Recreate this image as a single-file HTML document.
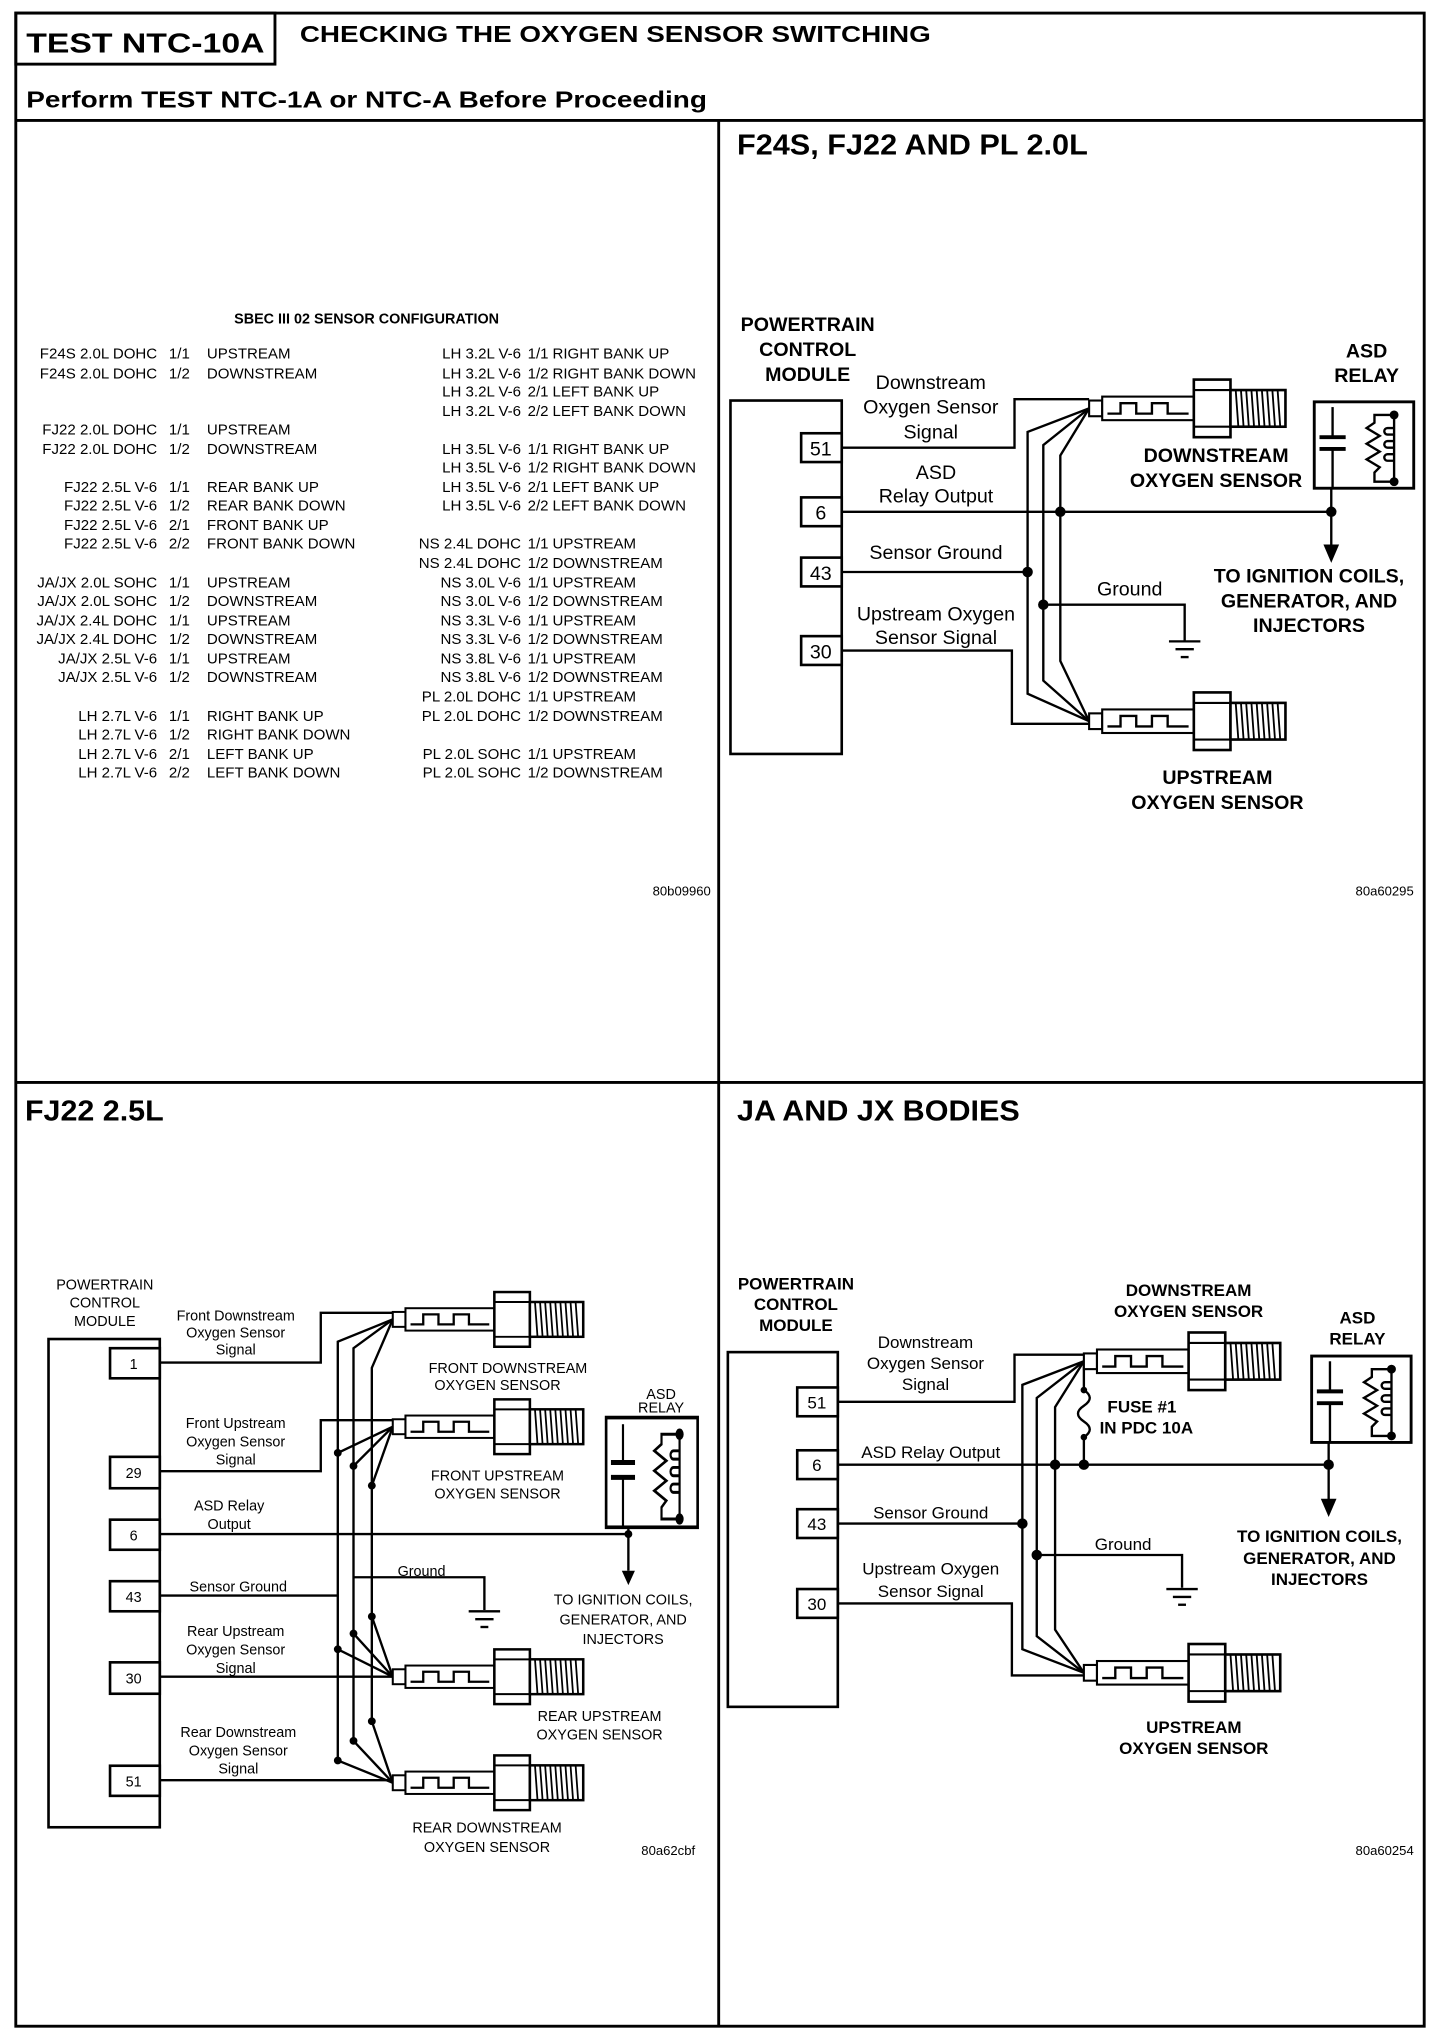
<!DOCTYPE html>
<html><head><meta charset="utf-8"><style>
html,body{margin:0;padding:0;background:#fff}
svg{display:block}
text{font-family:"Liberation Sans Narrow","Liberation Sans",sans-serif;fill:#000}
.b{font-weight:bold}
</style></head><body>
<svg width="1440" height="2038" viewBox="0 0 1100 1557" xmlns="http://www.w3.org/2000/svg">
<defs>
<g id="sen" stroke="#000" fill="#fff" stroke-width="1.6">
<rect x="0" y="-6" width="10" height="12"/>
<rect x="10" y="-9" width="70" height="18"/>
<path d="M14 4 H24 V-4 H36 V4 H48 V-4 H60 V4 H76" fill="none" stroke-width="1.8"/>
<rect x="80" y="-22" width="28" height="44" stroke-width="2"/>
<line x1="80" y1="-14" x2="108" y2="-14"/><line x1="80" y1="14" x2="108" y2="14"/>
<rect x="108" y="-14" width="42" height="28" stroke-width="2"/>
<path d="M112 -14 L114 14 M116 -14 L118 14 M120 -14 L122 14 M124 -14 L126 14 M128 -14 L130 14 M132 -14 L134 14 M136 -14 L138 14 M140 -14 L142 14 M144 -14 L146 14" fill="none" stroke-width="1.4"/>
</g>
<g id="rel" stroke="#000" fill="none" stroke-width="1.8">
<rect x="0" y="0" width="76" height="66" fill="#fff" stroke-width="2.2"/>
<line x1="14" y1="4" x2="14" y2="27"/><line x1="14" y1="36" x2="14" y2="66"/>
<line x1="4" y1="27" x2="24" y2="27" stroke-width="3"/><line x1="4" y1="36" x2="24" y2="36" stroke-width="3"/>
<path d="M61 10 H46 V16 L40 20 L50 26 L40 32 L50 38 L40 44 L50 50 L46 54 V61 H61"/>
<path d="M61 10 V61 M61 20 h-5 a2 2 0 0 0 0 5 h5 M61 30 h-5 a2 2 0 0 0 0 5 h5 M61 40 h-5 a2 2 0 0 0 0 5 h5"/>
<circle cx="61" cy="10" r="2.5" fill="#000"/><circle cx="61" cy="61" r="2.5" fill="#000"/>
</g>
<g id="gnd" stroke="#000" stroke-width="1.8"><line x1="-12" y1="0" x2="12" y2="0"/><line x1="-7" y1="6" x2="7" y2="6"/><line x1="-3" y1="12" x2="3" y2="12"/></g>
</defs>

<!-- frame -->
<g stroke="#000" fill="none" stroke-width="2.2">
<rect x="12" y="10" width="1076" height="1538"/>
<rect x="12" y="10" width="198" height="39"/>
<line x1="12" y1="92" x2="1088" y2="92"/>
<line x1="549" y1="92" x2="549" y2="1548"/>
<line x1="12" y1="827" x2="1088" y2="827"/>
</g>
<text class="b" x="20" y="40" font-size="21" textLength="182" lengthAdjust="spacingAndGlyphs">TEST NTC-10A</text>
<text class="b" x="229" y="32" font-size="18" textLength="482" lengthAdjust="spacingAndGlyphs">CHECKING THE OXYGEN SENSOR SWITCHING</text>
<text class="b" x="20" y="82" font-size="18" textLength="520" lengthAdjust="spacingAndGlyphs">Perform TEST NTC-1A or NTC-A Before Proceeding</text>
<text class="b" x="563" y="118" font-size="22" textLength="268" lengthAdjust="spacingAndGlyphs">F24S, FJ22 AND PL 2.0L</text>
<text class="b" x="19" y="856" font-size="22" textLength="106" lengthAdjust="spacingAndGlyphs">FJ22 2.5L</text>
<text class="b" x="563" y="856" font-size="22" textLength="216" lengthAdjust="spacingAndGlyphs">JA AND JX BODIES</text>

<!-- table -->
<text class="b" x="280" y="247" font-size="11" text-anchor="middle">SBEC III 02 SENSOR CONFIGURATION</text>
<g font-size="11.5">
<g text-anchor="end">
<text x="120" y="274">F24S 2.0L DOHC</text><text x="120" y="289">F24S 2.0L DOHC</text>
<text x="120" y="332">FJ22 2.0L DOHC</text><text x="120" y="347">FJ22 2.0L DOHC</text>
<text x="120" y="376">FJ22 2.5L V-6</text><text x="120" y="390">FJ22 2.5L V-6</text><text x="120" y="405">FJ22 2.5L V-6</text><text x="120" y="419">FJ22 2.5L V-6</text>
<text x="120" y="449">JA/JX 2.0L SOHC</text><text x="120" y="463">JA/JX 2.0L SOHC</text><text x="120" y="478">JA/JX 2.4L DOHC</text><text x="120" y="492">JA/JX 2.4L DOHC</text><text x="120" y="507">JA/JX 2.5L V-6</text><text x="120" y="521">JA/JX 2.5L V-6</text>
<text x="120" y="551">LH 2.7L V-6</text><text x="120" y="565">LH 2.7L V-6</text><text x="120" y="580">LH 2.7L V-6</text><text x="120" y="594">LH 2.7L V-6</text>
<text x="398" y="274">LH 3.2L V-6</text><text x="398" y="289">LH 3.2L V-6</text><text x="398" y="303">LH 3.2L V-6</text><text x="398" y="318">LH 3.2L V-6</text>
<text x="398" y="347">LH 3.5L V-6</text><text x="398" y="361">LH 3.5L V-6</text><text x="398" y="376">LH 3.5L V-6</text><text x="398" y="390">LH 3.5L V-6</text>
<text x="398" y="419">NS 2.4L DOHC</text><text x="398" y="434">NS 2.4L DOHC</text><text x="398" y="449">NS 3.0L V-6</text><text x="398" y="463">NS 3.0L V-6</text><text x="398" y="478">NS 3.3L V-6</text><text x="398" y="492">NS 3.3L V-6</text><text x="398" y="507">NS 3.8L V-6</text><text x="398" y="521">NS 3.8L V-6</text>
<text x="398" y="536">PL 2.0L DOHC</text><text x="398" y="551">PL 2.0L DOHC</text><text x="398" y="580">PL 2.0L SOHC</text><text x="398" y="594">PL 2.0L SOHC</text>
</g>
<g>
<text x="129" y="274">1/1</text><text x="158" y="274">UPSTREAM</text>
<text x="129" y="289">1/2</text><text x="158" y="289">DOWNSTREAM</text>
<text x="129" y="332">1/1</text><text x="158" y="332">UPSTREAM</text>
<text x="129" y="347">1/2</text><text x="158" y="347">DOWNSTREAM</text>
<text x="129" y="376">1/1</text><text x="158" y="376">REAR BANK UP</text>
<text x="129" y="390">1/2</text><text x="158" y="390">REAR BANK DOWN</text>
<text x="129" y="405">2/1</text><text x="158" y="405">FRONT BANK UP</text>
<text x="129" y="419">2/2</text><text x="158" y="419">FRONT BANK DOWN</text>
<text x="129" y="449">1/1</text><text x="158" y="449">UPSTREAM</text>
<text x="129" y="463">1/2</text><text x="158" y="463">DOWNSTREAM</text>
<text x="129" y="478">1/1</text><text x="158" y="478">UPSTREAM</text>
<text x="129" y="492">1/2</text><text x="158" y="492">DOWNSTREAM</text>
<text x="129" y="507">1/1</text><text x="158" y="507">UPSTREAM</text>
<text x="129" y="521">1/2</text><text x="158" y="521">DOWNSTREAM</text>
<text x="129" y="551">1/1</text><text x="158" y="551">RIGHT BANK UP</text>
<text x="129" y="565">1/2</text><text x="158" y="565">RIGHT BANK DOWN</text>
<text x="129" y="580">2/1</text><text x="158" y="580">LEFT BANK UP</text>
<text x="129" y="594">2/2</text><text x="158" y="594">LEFT BANK DOWN</text>
<text x="403" y="274">1/1</text><text x="422" y="274">RIGHT BANK UP</text>
<text x="403" y="289">1/2</text><text x="422" y="289">RIGHT BANK DOWN</text>
<text x="403" y="303">2/1</text><text x="422" y="303">LEFT BANK UP</text>
<text x="403" y="318">2/2</text><text x="422" y="318">LEFT BANK DOWN</text>
<text x="403" y="347">1/1</text><text x="422" y="347">RIGHT BANK UP</text>
<text x="403" y="361">1/2</text><text x="422" y="361">RIGHT BANK DOWN</text>
<text x="403" y="376">2/1</text><text x="422" y="376">LEFT BANK UP</text>
<text x="403" y="390">2/2</text><text x="422" y="390">LEFT BANK DOWN</text>
<text x="403" y="419">1/1</text><text x="422" y="419">UPSTREAM</text>
<text x="403" y="434">1/2</text><text x="422" y="434">DOWNSTREAM</text>
<text x="403" y="449">1/1</text><text x="422" y="449">UPSTREAM</text>
<text x="403" y="463">1/2</text><text x="422" y="463">DOWNSTREAM</text>
<text x="403" y="478">1/1</text><text x="422" y="478">UPSTREAM</text>
<text x="403" y="492">1/2</text><text x="422" y="492">DOWNSTREAM</text>
<text x="403" y="507">1/1</text><text x="422" y="507">UPSTREAM</text>
<text x="403" y="521">1/2</text><text x="422" y="521">DOWNSTREAM</text>
<text x="403" y="536">1/1</text><text x="422" y="536">UPSTREAM</text>
<text x="403" y="551">1/2</text><text x="422" y="551">DOWNSTREAM</text>
<text x="403" y="580">1/1</text><text x="422" y="580">UPSTREAM</text>
<text x="403" y="594">1/2</text><text x="422" y="594">DOWNSTREAM</text>
</g></g>
<text x="543" y="684" font-size="10" text-anchor="end">80b09960</text>

<!-- ===== top right ===== -->
<g class="b" font-size="15" text-anchor="middle">
<text x="617" y="253">POWERTRAIN</text><text x="617" y="272">CONTROL</text><text x="617" y="291">MODULE</text>
<text x="1044" y="273">ASD</text><text x="1044" y="292">RELAY</text>
<text x="929" y="353">DOWNSTREAM</text><text x="929" y="372">OXYGEN SENSOR</text>
<text x="1000" y="445">TO IGNITION COILS,</text><text x="1000" y="464">GENERATOR, AND</text><text x="1000" y="483">INJECTORS</text>
<text x="930" y="599">UPSTREAM</text><text x="930" y="618">OXYGEN SENSOR</text>
</g>
<g font-size="15" text-anchor="middle">
<text x="711" y="297">Downstream</text><text x="711" y="316">Oxygen Sensor</text><text x="711" y="335">Signal</text>
<text x="715" y="366">ASD</text><text x="715" y="384">Relay Output</text>
<text x="715" y="427">Sensor Ground</text>
<text x="715" y="474">Upstream Oxygen</text><text x="715" y="492">Sensor Signal</text>
<text x="863" y="455">Ground</text>
</g>
<g stroke="#000" fill="#fff" stroke-width="2">
<rect x="558" y="306" width="85" height="270"/>
<rect x="612" y="331" width="31" height="22"/><rect x="612" y="380" width="31" height="22"/>
<rect x="612" y="426" width="31" height="22"/><rect x="612" y="486" width="31" height="22"/>
</g>
<g font-size="15" text-anchor="middle"><text x="627" y="348">51</text><text x="627" y="397">6</text><text x="627" y="443">43</text><text x="627" y="503">30</text></g>
<g stroke="#000" fill="none" stroke-width="1.8">
<path d="M643 342 H775 V305 H832"/>
<path d="M643 391 H1017"/>
<path d="M643 437 H785"/>
<path d="M643 497 H773 V553 H832"/>
<path d="M832 312 L785 330 V530 L832 551"/>
<path d="M832 312 L797 340 V520 L832 551"/>
<path d="M832 312 L810 348 V505 L832 551"/>
<path d="M797 462 H905 V490"/>
<path d="M1017 373 V420"/>
</g>
<path d="M1011 416 L1023 416 L1017 430 Z" fill="#000"/>
<use href="#gnd" x="905" y="490"/>
<g fill="#000"><circle cx="810" cy="391" r="4"/><circle cx="785" cy="437" r="4"/><circle cx="797" cy="462" r="4"/><circle cx="1017" cy="391" r="4"/></g>
<use href="#sen" x="832" y="312"/>
<use href="#sen" x="832" y="551"/>
<use href="#rel" x="1004" y="307"/>
<text x="1080" y="684" font-size="10" text-anchor="end">80a60295</text>

<!-- ===== bottom left ===== -->
<g font-size="11" text-anchor="middle">
<text x="80" y="985">POWERTRAIN</text><text x="80" y="999">CONTROL</text><text x="80" y="1013">MODULE</text>
<text x="180" y="1009">Front Downstream</text><text x="180" y="1022">Oxygen Sensor</text><text x="180" y="1035">Signal</text>
<text x="180" y="1091">Front Upstream</text><text x="180" y="1105">Oxygen Sensor</text><text x="180" y="1119">Signal</text>
<text x="175" y="1154">ASD Relay</text><text x="175" y="1168">Output</text>
<text x="182" y="1216">Sensor Ground</text>
<text x="180" y="1250">Rear Upstream</text><text x="180" y="1264">Oxygen Sensor</text><text x="180" y="1278">Signal</text>
<text x="182" y="1327">Rear Downstream</text><text x="182" y="1341">Oxygen Sensor</text><text x="182" y="1355">Signal</text>
<text x="322" y="1204">Ground</text>
<text x="388" y="1049">FRONT DOWNSTREAM</text><text x="380" y="1062">OXYGEN SENSOR</text>
<text x="380" y="1131">FRONT UPSTREAM</text><text x="380" y="1145">OXYGEN SENSOR</text>
<text x="505" y="1069">ASD</text><text x="505" y="1079">RELAY</text>
<text x="476" y="1226">TO IGNITION COILS,</text><text x="476" y="1241">GENERATOR, AND</text><text x="476" y="1256">INJECTORS</text>
<text x="458" y="1315">REAR UPSTREAM</text><text x="458" y="1329">OXYGEN SENSOR</text>
<text x="372" y="1400">REAR DOWNSTREAM</text><text x="372" y="1415">OXYGEN SENSOR</text>
</g>
<text x="531" y="1417" font-size="10" text-anchor="end">80a62cbf</text>
<g stroke="#000" fill="#fff" stroke-width="2">
<rect x="37" y="1023" width="85" height="373"/>
<rect x="84" y="1030" width="38" height="23"/><rect x="84" y="1113" width="38" height="24"/>
<rect x="84" y="1161" width="38" height="23"/><rect x="84" y="1208" width="38" height="23"/>
<rect x="84" y="1270" width="38" height="24"/><rect x="84" y="1349" width="38" height="23"/>
</g>
<g font-size="11" text-anchor="middle"><text x="102" y="1046">1</text><text x="102" y="1129">29</text><text x="102" y="1177">6</text><text x="102" y="1224">43</text><text x="102" y="1286">30</text><text x="102" y="1365">51</text></g>
<g stroke="#000" fill="none" stroke-width="1.8">
<path d="M122 1041 H245 V1003 H300"/>
<path d="M122 1124 H245 V1085 H300"/>
<path d="M122 1172 H480 V1200"/>
<path d="M122 1219 H258"/>
<path d="M122 1281 H300"/>
<path d="M122 1360 H300"/>
<path d="M270 1205 H370 V1230"/>
<path d="M300 1008 L258 1025 V1345 L300 1362"/>
<path d="M300 1008 L270 1030 V1330 L300 1362"/>
<path d="M300 1008 L284 1045 V1315 L300 1362"/>
<path d="M300 1090 L258 1110 M300 1090 L270 1120 M300 1090 L284 1135"/>
<path d="M300 1281 L258 1260 M300 1281 L270 1248 M300 1281 L284 1235"/>
<path d="M480 1167 V1172"/>
</g>
<path d="M475 1200 L485 1200 L480 1211 Z" fill="#000"/>
<use href="#gnd" x="370" y="1231"/>
<g fill="#000"><circle cx="258" cy="1110" r="3"/><circle cx="270" cy="1120" r="3"/><circle cx="284" cy="1135" r="3"/><circle cx="284" cy="1235" r="3"/><circle cx="270" cy="1248" r="3"/><circle cx="258" cy="1260" r="3"/><circle cx="284" cy="1315" r="3"/><circle cx="270" cy="1330" r="3"/><circle cx="258" cy="1345" r="3"/><circle cx="480" cy="1172" r="3"/></g>
<g transform="translate(300 1008) scale(0.97 0.95)"><use href="#sen"/></g>
<g transform="translate(300 1090) scale(0.97 0.95)"><use href="#sen"/></g>
<g transform="translate(300 1281) scale(0.97 0.95)"><use href="#sen"/></g>
<g transform="translate(300 1362) scale(0.97 0.95)"><use href="#sen"/></g>
<g transform="translate(463 1083) scale(0.92 1.27)"><use href="#rel"/></g>

<!-- ===== bottom right ===== -->
<g class="b" font-size="13" text-anchor="middle">
<text x="608" y="985">POWERTRAIN</text><text x="608" y="1001">CONTROL</text><text x="608" y="1017">MODULE</text>
<text x="908" y="990">DOWNSTREAM</text><text x="908" y="1006">OXYGEN SENSOR</text>
<text x="1037" y="1011">ASD</text><text x="1037" y="1027">RELAY</text>
<text x="1008" y="1178">TO IGNITION COILS,</text><text x="1008" y="1195">GENERATOR, AND</text><text x="1008" y="1211">INJECTORS</text>
<text x="912" y="1324">UPSTREAM</text><text x="912" y="1340">OXYGEN SENSOR</text>
</g>
<g class="b" font-size="13"><text x="846" y="1079">FUSE #1</text><text x="840" y="1095">IN PDC 10A</text></g>
<g font-size="13" text-anchor="middle">
<text x="707" y="1030">Downstream</text><text x="707" y="1046">Oxygen Sensor</text><text x="707" y="1062">Signal</text>
<text x="711" y="1114">ASD Relay Output</text>
<text x="711" y="1160">Sensor Ground</text>
<text x="711" y="1203">Upstream Oxygen</text><text x="711" y="1220">Sensor Signal</text>
<text x="858" y="1184">Ground</text>
</g>
<text x="1080" y="1417" font-size="10" text-anchor="end">80a60254</text>
<g stroke="#000" fill="#fff" stroke-width="2">
<rect x="556" y="1033" width="84" height="271"/>
<rect x="609" y="1060" width="31" height="22"/><rect x="609" y="1108" width="31" height="22"/>
<rect x="609" y="1153" width="31" height="22"/><rect x="609" y="1214" width="31" height="22"/>
</g>
<g font-size="13" text-anchor="middle"><text x="624" y="1076">51</text><text x="624" y="1124">6</text><text x="624" y="1169">43</text><text x="624" y="1230">30</text></g>
<g stroke="#000" fill="none" stroke-width="1.8">
<path d="M640 1071 H775 V1035 H828"/>
<path d="M640 1119 H1015"/>
<path d="M640 1164 H781"/>
<path d="M640 1225 H773 V1280 H828"/>
<path d="M828 1040 L781 1058 V1260 L828 1278"/>
<path d="M828 1040 L792 1068 V1250 L828 1278"/>
<path d="M806 1119 V1245 L828 1278"/>
<path d="M828 1040 L806 1075 V1119"/>
<path d="M828 1040 V1062 c6 4 6 8 0 12 c-6 4 -6 8 0 12 c6 4 6 8 0 12 V1119"/>
<path d="M792 1188 H903 V1213"/>
<path d="M1015 1102 V1148"/>
</g>
<path d="M1009 1145 L1021 1145 L1015 1159 Z" fill="#000"/>
<use href="#gnd" x="903" y="1214"/>
<g fill="#000"><circle cx="806" cy="1119" r="4"/><circle cx="828" cy="1119" r="4"/><circle cx="781" cy="1164" r="4"/><circle cx="792" cy="1188" r="4"/><circle cx="1015" cy="1119" r="4"/><circle cx="828" cy="1062" r="2.5"/><circle cx="828" cy="1098" r="2.5"/></g>
<use href="#sen" x="828" y="1040"/>
<use href="#sen" x="828" y="1278"/>
<use href="#rel" x="1002" y="1036"/>
</svg>
</body></html>
